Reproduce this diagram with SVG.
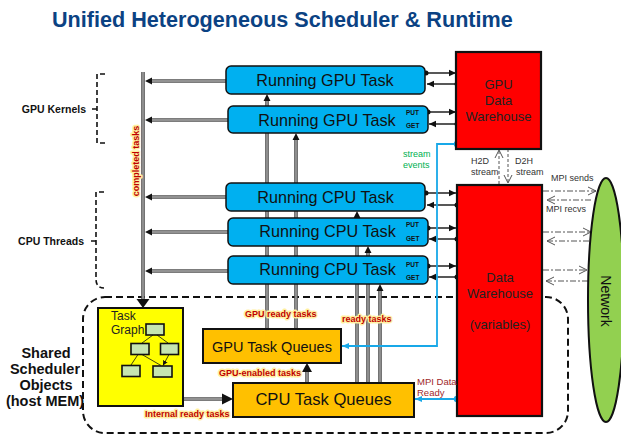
<svg xmlns="http://www.w3.org/2000/svg" width="621" height="434" viewBox="0 0 621 434">
<defs>
<style>
text{font-family:"Liberation Sans",Arial,sans-serif}
.title{font-size:21.6px;font-weight:bold;fill:#0b4283}
.run{fill:#00b0f0;stroke:#111;stroke-width:1.5}
.runt{font-size:16.2px;fill:#111;text-anchor:middle}
.pg{font-size:6.5px;font-weight:bold;fill:#111}
.q{fill:#ffc000;stroke:#111;stroke-width:2}
.dw{fill:#ff0000;stroke:#111;stroke-width:2.2}
.dwt{font-size:13px;fill:#222;text-anchor:middle}
.po{fill:none;stroke:#505050;stroke-width:3.6}
.pi{fill:none;stroke:#a8a8a8;stroke-width:1.4}
.bl{fill:none;stroke:#111;stroke-width:1.4}
.blue{fill:none;stroke:#18a8e8;stroke-width:1.8}
.dash{fill:none;stroke:#111;stroke-width:1.6;stroke-dasharray:5,3}
.reg{fill:none;stroke:#111;stroke-width:2;stroke-dasharray:7,4}
.dd{fill:none;stroke:#555;stroke-width:1;stroke-dasharray:3,2}
.dc{fill:none;stroke:#555;stroke-width:1;stroke-dasharray:6,2,2,2}
.hl{font-size:9px;font-weight:bold;fill:#c00000;stroke:#fff0a0;stroke-width:3;paint-order:stroke;stroke-linejoin:round}
.sm{font-size:9px;fill:#333}
.side{font-size:10.5px;font-weight:bold;fill:#111;text-anchor:end}
.shared{font-size:14.5px;font-weight:bold;fill:#111;text-anchor:middle}
.tg{fill:#c6e5b0;stroke:#111;stroke-width:1.6}
</style>
<marker id="ah" markerUnits="userSpaceOnUse" markerWidth="8" markerHeight="8" refX="7" refY="4" orient="auto"><path d="M0,0.8 L7,4 L0,7.2 Z" fill="#111"/></marker>
<marker id="big" markerUnits="userSpaceOnUse" markerWidth="14" markerHeight="14" refX="9" refY="7" orient="auto"><path d="M0,0.5 L9,7 L0,13.5 Z" fill="#111"/></marker>
<marker id="dot" markerUnits="userSpaceOnUse" markerWidth="6" markerHeight="6" refX="3" refY="3"><circle cx="3" cy="3" r="2.5" fill="#111"/></marker>
<marker id="bdot" markerUnits="userSpaceOnUse" markerWidth="8" markerHeight="8" refX="4" refY="4"><circle cx="4" cy="4" r="3.2" fill="#18a8e8"/></marker>
<marker id="bah" markerUnits="userSpaceOnUse" markerWidth="8" markerHeight="8" refX="7" refY="4" orient="auto"><path d="M0,1 L7,4 L0,7 Z" fill="#18a8e8"/></marker>
<marker id="open" markerUnits="userSpaceOnUse" markerWidth="10" markerHeight="10" refX="8" refY="5" orient="auto"><path d="M0,1 L8,5 L0,9" fill="none" stroke="#555" stroke-width="1"/></marker>
<marker id="tah" markerUnits="userSpaceOnUse" markerWidth="6" markerHeight="6" refX="5" refY="3" orient="auto"><path d="M0,0.5 L5,3 L0,5.5 Z" fill="#111"/></marker>
</defs>

<text class="title" x="52" y="27">Unified Heterogeneous Scheduler &amp; Runtime</text>

<g id="shared-region">
<rect class="reg" x="83" y="297" width="485" height="136" rx="22"/>
</g>

<g id="brackets">
<path class="dash" d="M105,74 H97 V143 H105 M97,109 H92"/>
<text class="side" x="86" y="113">GPU Kernels</text>
<path class="dash" d="M104,192 H96 V279 Q96,288 104,288 M96,241 H91"/>
<text class="side" x="84" y="245">CPU Threads</text>
</g>

<g id="connectors">
<!-- completed tasks bus -->
<path class="po" d="M143,72 V300"/>
<path class="pi" d="M143,72 V300"/>
<path d="M136.5,299 L149.5,299 L143,308 Z" fill="#111"/>
<!-- from running tasks to completed bus -->
<g>
<path class="po" d="M226,81 H150"/><path class="pi" d="M226,81 H150"/>
<path class="po" d="M228,120 H150"/><path class="pi" d="M228,120 H150"/>
<path class="po" d="M226,197 H150"/><path class="pi" d="M226,197 H150"/>
<path class="po" d="M228,232 H150"/><path class="pi" d="M228,232 H150"/>
<path class="po" d="M228,271 H150"/><path class="pi" d="M228,271 H150"/>
<path d="M145,81 L152,77.5 L152,84.5 Z M145,120 L152,116.5 L152,123.5 Z M145,197 L152,193.5 L152,200.5 Z M145,232 L152,228.5 L152,235.5 Z M145,271 L152,267.5 L152,274.5 Z" fill="#111"/>
</g>
<!-- GPU ready tasks -->
<path class="po" d="M267,329 V100"/><path class="pi" d="M267,329 V100"/>
<path class="po" d="M296,329 V139"/><path class="pi" d="M296,329 V139"/>
<path d="M267,94 L263.5,101 L270.5,101 Z M296,133 L292.5,140 L299.5,140 Z" fill="#111"/>
<!-- CPU ready tasks -->
<path class="po" d="M357,383 V217"/><path class="pi" d="M357,383 V217"/>
<path class="po" d="M368,383 V252"/><path class="pi" d="M368,383 V252"/>
<path class="po" d="M380,383 V290"/><path class="pi" d="M380,383 V290"/>
<path d="M357,211 L353.5,218 L360.5,218 Z M368,246 L364.5,253 L371.5,253 Z M380,284 L376.5,291 L383.5,291 Z" fill="#111"/>
<!-- GPU-enabled tasks -->
<path class="po" d="M307,383 V370"/><path class="pi" d="M307,383 V370"/>
<path d="M307,363 L302,372 L312,372 Z" fill="#111"/>
<!-- Internal ready tasks -->
<path class="po" d="M183,399 H224"/><path class="pi" d="M183,399 H224"/>
<path d="M233,399 L222,393.5 L222,404.5 Z" fill="#111"/>

<!-- task <-> data warehouse -->
<path class="bl" d="M426,73 H456" marker-start="url(#dot)" marker-end="url(#ah)"/>
<path class="bl" d="M457,84 H427" marker-start="url(#dot)" marker-end="url(#ah)"/>
<path class="bl" d="M428,112 H456" marker-start="url(#dot)" marker-end="url(#ah)"/>
<path class="bl" d="M457,124 H429" marker-start="url(#dot)" marker-end="url(#ah)"/>
<path class="bl" d="M426,193 H456" marker-start="url(#dot)" marker-end="url(#ah)"/>
<path class="bl" d="M457,205 H427" marker-start="url(#dot)" marker-end="url(#ah)"/>
<path class="bl" d="M428,228 H456" marker-start="url(#dot)" marker-end="url(#ah)"/>
<path class="bl" d="M457,239 H429" marker-start="url(#dot)" marker-end="url(#ah)"/>
<path class="bl" d="M428,266 H456" marker-start="url(#dot)" marker-end="url(#ah)"/>
<path class="bl" d="M457,277 H429" marker-start="url(#dot)" marker-end="url(#ah)"/>

<!-- blue lines -->
<path class="blue" d="M457,144 H437 V346 H342" marker-start="url(#bdot)" marker-end="url(#bah)"/>
<path class="blue" d="M457,399 H415" marker-start="url(#bdot)" marker-end="url(#bah)"/>

<!-- H2D / D2H -->
<path class="dd" d="M499,184 V150" marker-end="url(#open)"/>
<path class="dd" d="M508,149 V183" marker-end="url(#open)"/>

<!-- MPI -->
<path class="dc" d="M543,191 H596" marker-end="url(#open)"/>
<path class="dc" d="M591,200 H547" marker-end="url(#open)"/>
<path class="dc" d="M543,232 H591" marker-end="url(#open)"/>
<path class="dc" d="M589,241 H547" marker-end="url(#open)"/>
<path class="dc" d="M543,270 H587" marker-end="url(#open)"/>
<path class="dc" d="M588,281 H546" marker-end="url(#open)"/>
</g>

<g id="running-gpu-1">
<rect class="run" x="226" y="66" width="199" height="28" rx="5"/>
<text class="runt" x="325" y="86">Running GPU Task</text>
</g>
<g id="running-gpu-2">
<rect class="run" x="228" y="106" width="200" height="27" rx="5"/>
<text class="runt" x="327" y="125.5">Running GPU Task</text>
<text class="pg" x="406" y="115">PUT</text>
<text class="pg" x="406" y="128">GET</text>
</g>
<g id="running-cpu-1">
<rect class="run" x="226" y="183" width="199" height="28" rx="5"/>
<text class="runt" x="325.5" y="203">Running CPU Task</text>
</g>
<g id="running-cpu-2">
<rect class="run" x="228" y="218" width="200" height="28" rx="5"/>
<text class="runt" x="327.5" y="237">Running CPU Task</text>
<text class="pg" x="406" y="227">PUT</text>
<text class="pg" x="406" y="240.5">GET</text>
</g>
<g id="running-cpu-3">
<rect class="run" x="228" y="256" width="200" height="28" rx="5"/>
<text class="runt" x="327.5" y="275">Running CPU Task</text>
<text class="pg" x="406" y="266.5">PUT</text>
<text class="pg" x="406" y="279.5">GET</text>
</g>

<g id="gpu-data-warehouse">
<rect class="dw" x="456" y="52" width="85" height="97"/>
<text class="dwt" x="498.5" y="89">GPU</text>
<text class="dwt" x="498.5" y="104.5">Data</text>
<text class="dwt" x="498.5" y="120.5">Warehouse</text>
</g>
<g id="data-warehouse">
<rect class="dw" x="457" y="185" width="85" height="231"/>
<text class="dwt" x="500" y="282">Data</text>
<text class="dwt" x="500" y="297.5">Warehouse</text>
<text class="dwt" x="500" y="328.5">(variables)</text>
</g>
<g id="network">
<ellipse cx="606" cy="300" rx="18" ry="122" fill="#92d050" stroke="#111" stroke-width="2"/>
<text transform="translate(606,301) rotate(90)" x="0" y="5" font-size="14" fill="#111" text-anchor="middle">Network</text>
</g>

<g id="task-graph">
<rect x="98" y="308" width="85" height="98" fill="#ffff00" stroke="#111" stroke-width="2"/>
<text x="111" y="319.5" font-size="12" fill="#222">Task</text>
<text x="111" y="334" font-size="12" fill="#222">Graph</text>
<rect class="tg" x="146" y="324" width="18" height="11"/>
<rect class="tg" x="131" y="343.5" width="18" height="11"/>
<rect class="tg" x="160.5" y="343.5" width="18" height="11"/>
<rect class="tg" x="122" y="365.5" width="18" height="11"/>
<rect class="tg" x="153" y="366" width="19" height="11"/>
<path d="M153,335 L142,343 M157,335 L168,343 M138,354.5 L131,365 M142,354.5 L161,365.5 M169,354.5 L163,365.5" fill="none" stroke="#111" stroke-width="0.8" marker-end="url(#tah)"/>
</g>

<g id="gpu-task-queues">
<rect class="q" x="203" y="329" width="138" height="34"/>
<text x="272" y="351.5" font-size="14.5" fill="#111" text-anchor="middle">GPU Task Queues</text>
</g>
<g id="cpu-task-queues">
<rect class="q" x="233" y="383" width="181" height="34"/>
<text x="323.5" y="405" font-size="16.6" fill="#111" text-anchor="middle">CPU Task Queues</text>
</g>

<g id="labels">
<text class="hl" transform="translate(139,161) rotate(-90)" x="0" y="0" text-anchor="middle">completed tasks</text>
<text class="hl" x="245" y="317">GPU ready tasks</text>
<text class="hl" x="342" y="322">ready tasks</text>
<text class="hl" x="219" y="376">GPU-enabled tasks</text>
<text class="hl" x="145" y="417">Internal ready tasks</text>
<text x="403" y="156.5" font-size="9" fill="#00b050">stream</text>
<text x="403" y="167.5" font-size="9" fill="#00b050">events</text>
<text x="417" y="384.5" font-size="9.5" fill="#a0282a">MPI Data</text>
<text x="417" y="395.5" font-size="9.5" fill="#a0282a">Ready</text>
<text class="sm" x="471" y="164">H2D</text>
<text class="sm" x="471" y="175">stream</text>
<text class="sm" x="515" y="164">D2H</text>
<text class="sm" x="516" y="175">stream</text>
<text class="sm" x="551" y="181">MPI sends</text>
<text class="sm" x="546" y="212">MPI recvs</text>
<text class="shared" x="46" y="358">Shared</text>
<text class="shared" x="45" y="374">Scheduler</text>
<text class="shared" x="46" y="390">Objects</text>
<text class="shared" x="45" y="406">(host MEM)</text>
</g>
</svg>
